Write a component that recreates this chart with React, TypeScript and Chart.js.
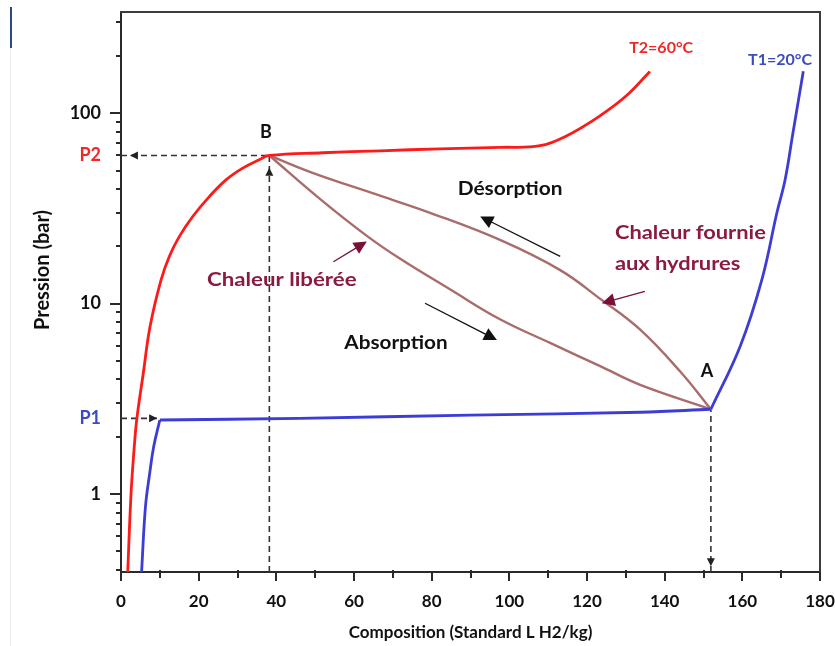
import React, { useEffect, useRef } from 'react';
import { Chart, registerables } from 'chart.js';
Chart.register(...registerables);

// ---- axes ----
const X_MIN = 0;
const X_MAX = 180;
const Y_MIN = 0.39;
const Y_MAX = 340;
const X_MAJOR = [0, 20, 40, 60, 80, 100, 120, 140, 160, 180];
const X_MINOR = [10, 30, 50, 70, 90, 110, 130, 150, 170];
const Y_MAJOR = [1, 10, 100];
const Y_MINOR = [0.4, 0.5, 0.6, 0.7, 0.8, 0.9, 2, 3, 4, 5, 6, 7, 8, 9, 20, 30, 40, 50, 60, 70, 80, 90, 200, 300];
const P1 = 2.5;
const P2 = 60;
const Y_LABEL_VALUES = [1, P1, 10, P2, 100];
const Y_LABEL_TEXTS = ['1', 'P1', '10', 'P2', '100'];

// ---- curves ----
const RED_X = [1.73, 2.58, 3.35, 4.04, 5.74, 7.47, 10.3, 12.44, 15.0, 18.47, 22.74, 27.04, 31.34, 35.62, 38.2, 52.0, 66.7, 82.0, 97.6, 107.9, 114.8, 123.4, 130.2, 136.2];
const RED_Y = [0.39, 1.0, 1.7, 2.45, 4.31, 7.57, 13.3, 17.7, 22.5, 28.7, 36.5, 44.7, 51.5, 57.0, 60.0, 62.0, 63.5, 65.0, 66.2, 67.5, 76.2, 97.1, 123.8, 165.5];

const BLUE_RISE_X = [5.3, 6.3, 7.4, 8.4, 10.0];
const BLUE_RISE_Y = [0.39, 0.86, 1.29, 1.77, 2.45];
const BLUE_PLATEAU_X = [10.0, 46.0, 90.0, 133.7, 151.9];
const BLUE_PLATEAU_Y = [2.45, 2.5, 2.6, 2.69, 2.79];
const BLUE_HIGH_X = [151.9, 159.4, 165.0, 168.9, 171.0, 173.0, 175.7];
const BLUE_HIGH_Y = [2.79, 5.94, 13.3, 30.0, 44.6, 78, 166];

const DESORP_X = [38.2, 49.5, 66.7, 79.6, 97.6, 113.1, 123.4, 133.7, 144.0, 151.9];
const DESORP_Y = [60.0, 48.5, 36.9, 30.0, 21.6, 15.0, 10.6, 7.3, 4.4, 2.79];
const ABSORP_X = [38.2, 51.3, 63.3, 71.9, 84.7, 97.6, 110.5, 123.4, 133.7, 151.9];
const ABSORP_Y = [60.0, 35.4, 22.7, 17.2, 11.9, 8.28, 6.22, 4.7, 3.75, 2.79];

// ---- key points ----
const B_X = 38.2;
const A_X = 151.9;
const A_Y = 2.79;
const CORNER_X = 10.0;

// ---- annotations (data coordinates) ----
const TEXTS = [
  { t: 'B', x: 37.3, y: 79.4, c: '#111111', s: 18, sx: 1, align: 'center' },
  { t: 'A', x: 150.9, y: 4.43, c: '#111111', s: 18, sx: 1, align: 'center' },
  { t: 'Désorption', x: 100.2, y: 40.1, c: '#111111', s: 18, sx: 1.16, align: 'center' },
  { t: 'Absorption', x: 70.8, y: 6.21, c: '#111111', s: 18, sx: 1.15, align: 'center' },
  { t: 'Chaleur libérée', x: 41.4, y: 13.3, c: '#8b1a42', s: 19, sx: 1.17, align: 'center' },
  { t: 'Chaleur fournie', x: 127.2, y: 23.5, c: '#8b1a42', s: 19, sx: 1.15, align: 'left' },
  { t: 'aux hydrures', x: 127.2, y: 16.2, c: '#8b1a42', s: 19, sx: 1.15, align: 'left' },
  { t: 'T2=60°C', x: 139.1, y: 220, c: '#f02828', s: 16, sx: 1, align: 'center' },
  { t: 'T1=20°C', x: 169.7, y: 191, c: '#3b4cc0', s: 16, sx: 1, align: 'center' },
];
const ARROWS = [
  { from: [113.1, 17.7], to: [92.5, 28.7], c: '#111111' },
  { from: [78.3, 10.05], to: [96.8, 6.44], c: '#111111' },
  { from: [54.7, 16.6], to: [63.3, 21.2], c: '#7a1038' },
  { from: [134.9, 11.6], to: [123.8, 10.05], c: '#7a1038' },
];
// arrow heads on dashed guide lines: tip point + direction
const GUIDE_HEADS = [
  { x: 2.3, y: P2, dir: 'left' },
  { x: B_X, y: 51.7, dir: 'up' },
  { x: 9.3, y: P1, dir: 'right' },
  { x: A_X, y: 0.418, dir: 'down' },
];

const FONT = 'Lato, "Open Sans", sans-serif';
const pts = (xs: number[], ys: number[]) => xs.map((x, i) => ({ x, y: ys[i] }));

function head(ctx: CanvasRenderingContext2D, tx: number, ty: number, ang: number, len: number, hw: number, color: string) {
  ctx.save();
  ctx.translate(tx, ty);
  ctx.rotate(ang);
  ctx.fillStyle = color;
  ctx.beginPath();
  ctx.moveTo(0, 0);
  ctx.lineTo(-len, -hw);
  ctx.lineTo(-len, hw);
  ctx.closePath();
  ctx.fill();
  ctx.restore();
}

const annotPlugin = {
  id: 'annot',
  afterDatasetsDraw(chart: any) {
    const { ctx, chartArea: ca, scales } = chart;
    const xs = scales.x;
    const ys = scales.y;
    const px = (v: number) => xs.getPixelForValue(v);
    const py = (v: number) => ys.getPixelForValue(v);
    ctx.save();
    // frame top & right
    ctx.strokeStyle = '#3c3c3c';
    ctx.lineWidth = 2;
    ctx.beginPath();
    ctx.moveTo(ca.left - 1, ca.top);
    ctx.lineTo(ca.right, ca.top);
    ctx.lineTo(ca.right, ca.bottom + 8);
    ctx.stroke();
    // tick marks
    ctx.strokeStyle = '#2a2a2a';
    ctx.lineWidth = 2;
    Y_MAJOR.forEach((v) => {
      const y = Math.round(py(v));
      ctx.beginPath(); ctx.moveTo(ca.left - 11, y); ctx.lineTo(ca.left, y); ctx.stroke();
    });
    Y_MINOR.forEach((v) => {
      const y = Math.round(py(v));
      ctx.beginPath(); ctx.moveTo(ca.left - 5, y); ctx.lineTo(ca.left, y); ctx.stroke();
    });
    X_MAJOR.forEach((v) => {
      const x = Math.round(px(v));
      ctx.beginPath(); ctx.moveTo(x, ca.bottom); ctx.lineTo(x, ca.bottom + 9); ctx.stroke();
    });
    X_MINOR.forEach((v) => {
      const x = Math.round(px(v));
      ctx.beginPath(); ctx.moveTo(x, ca.bottom - 2); ctx.lineTo(x, ca.bottom + 6); ctx.stroke();
    });
    // guide arrow heads
    GUIDE_HEADS.forEach((g) => {
      const ang = g.dir === 'left' ? Math.PI : g.dir === 'right' ? 0 : g.dir === 'up' ? -Math.PI / 2 : Math.PI / 2;
      head(ctx, px(g.x), py(g.y), ang, 8, 4, '#222222');
    });
    // annotation arrows
    ARROWS.forEach((a) => {
      const x1 = px(a.from[0]), y1 = py(a.from[1]);
      const x2 = px(a.to[0]), y2 = py(a.to[1]);
      const ang = Math.atan2(y2 - y1, x2 - x1);
      ctx.strokeStyle = a.c;
      ctx.lineWidth = 1.3;
      ctx.beginPath();
      ctx.moveTo(x1, y1);
      ctx.lineTo(x2 - Math.cos(ang) * 8, y2 - Math.sin(ang) * 8);
      ctx.stroke();
      head(ctx, x2, y2, ang, 13, 6.5, a.c);
    });
    // texts
    ctx.textBaseline = 'middle';
    TEXTS.forEach((t) => {
      ctx.save();
      ctx.translate(px(t.x), py(t.y));
      ctx.scale(t.sx, 1);
      ctx.font = `bold ${t.s}px ${FONT}`;
      ctx.fillStyle = t.c;
      ctx.textAlign = t.align as CanvasTextAlign;
      ctx.fillText(t.t, 0, 0);
      ctx.restore();
    });
    // y axis title
    ctx.save();
    ctx.translate(43, 270);
    ctx.rotate(-Math.PI / 2);
    ctx.font = `bold 20px ${FONT}`;
    ctx.fillStyle = '#111111';
    ctx.textAlign = 'center';
    ctx.fillText('Pression (bar)', 0, 0);
    ctx.restore();
    ctx.restore();
  },
};

export default function App() {
  const ref = useRef<HTMLCanvasElement>(null);
  useEffect(() => {
    const curve = (data: any, color: string, w: number) => ({
      data,
      borderColor: color,
      borderWidth: w,
      pointRadius: 0,
      fill: false,
      tension: 0.4,
    });
    const guide = (data: any) => ({
      data,
      borderColor: '#333333',
      borderWidth: 1.6,
      borderDash: [6, 4],
      pointRadius: 0,
      fill: false,
      tension: 0,
    });
    const chart = new Chart(ref.current as HTMLCanvasElement, {
      type: 'line',
      data: {
        datasets: [
          curve(pts(RED_X, RED_Y), '#ff1a1a', 2.8),
          curve(pts(BLUE_RISE_X, BLUE_RISE_Y), '#3d3dd6', 2.8),
          curve(pts(BLUE_PLATEAU_X, BLUE_PLATEAU_Y), '#3d3dd6', 2.8),
          curve(pts(BLUE_HIGH_X, BLUE_HIGH_Y), '#3d3dd6', 2.8),
          curve(pts(DESORP_X, DESORP_Y), '#a86c6c', 2.4),
          curve(pts(ABSORP_X, ABSORP_Y), '#a86c6c', 2.4),
          guide([{ x: X_MIN, y: P2 }, { x: B_X, y: P2 }]),
          guide([{ x: B_X, y: Y_MIN }, { x: B_X, y: P2 }]),
          guide([{ x: X_MIN, y: P1 }, { x: CORNER_X, y: P1 }]),
          guide([{ x: A_X, y: Y_MIN }, { x: A_X, y: A_Y }]),
        ] as any,
      },
      options: {
        responsive: false,
        animation: false,
        devicePixelRatio: 1,
        layout: { padding: { top: 12, right: 15, left: 0, bottom: 0 } },
        plugins: { legend: { display: false }, tooltip: { enabled: false } },
        scales: {
          x: {
            type: 'linear',
            min: X_MIN,
            max: X_MAX,
            afterFit: (s: any) => { s.height = 74; s.paddingLeft = 0; s.paddingRight = 0; },
            grid: { display: false, drawTicks: false },
            border: { display: true, color: '#2a2a2a', width: 2 },
            ticks: {
              stepSize: 20,
              autoSkip: false,
              maxRotation: 0,
              padding: 19,
              color: '#111111',
              font: { family: FONT, weight: 'bold', size: 17 },
            },
            title: {
              display: true,
              text: 'Composition (Standard L H2/kg)',
              color: '#111111',
              font: { family: FONT, weight: 'bold', size: 17 },
              padding: { top: 0, bottom: 3 },
            },
          },
          y: {
            type: 'logarithmic',
            min: Y_MIN,
            max: Y_MAX,
            afterFit: (s: any) => { s.width = 121; s.paddingTop = 0; s.paddingBottom = 0; },
            afterBuildTicks: (s: any) => { s.ticks = Y_LABEL_VALUES.map((v) => ({ value: v })); },
            grid: { display: false, drawTicks: false },
            border: { display: true, color: '#2a2a2a', width: 2 },
            ticks: {
              autoSkip: false,
              padding: 20,
              callback: (v: any) => {
                const i = Y_LABEL_VALUES.indexOf(Number(v));
                return i >= 0 ? Y_LABEL_TEXTS[i] : '';
              },
              color: (c: any) => {
                const v = c.tick ? c.tick.value : null;
                if (v === P2) return '#f02828';
                if (v === P1) return '#3b4cc0';
                return '#111111';
              },
              font: { family: FONT, weight: 'bold', size: 18 },
            },
          },
        },
      } as any,
      plugins: [annotPlugin],
    });
    return () => chart.destroy();
  }, []);

  return (
    <div style={{ position: 'absolute', left: 0, top: 0, width: 835, height: 646, background: '#ffffff' }}>
      <canvas ref={ref} width={835} height={646} style={{ display: 'block', width: 835, height: 646 }} />
      <div style={{ position: 'absolute', left: 10, top: 7, width: 2, height: 41, background: '#2b4a86' }} />
      <div style={{ position: 'absolute', left: 10, top: 48, width: 1, height: 598, background: '#ececec' }} />
    </div>
  );
}
